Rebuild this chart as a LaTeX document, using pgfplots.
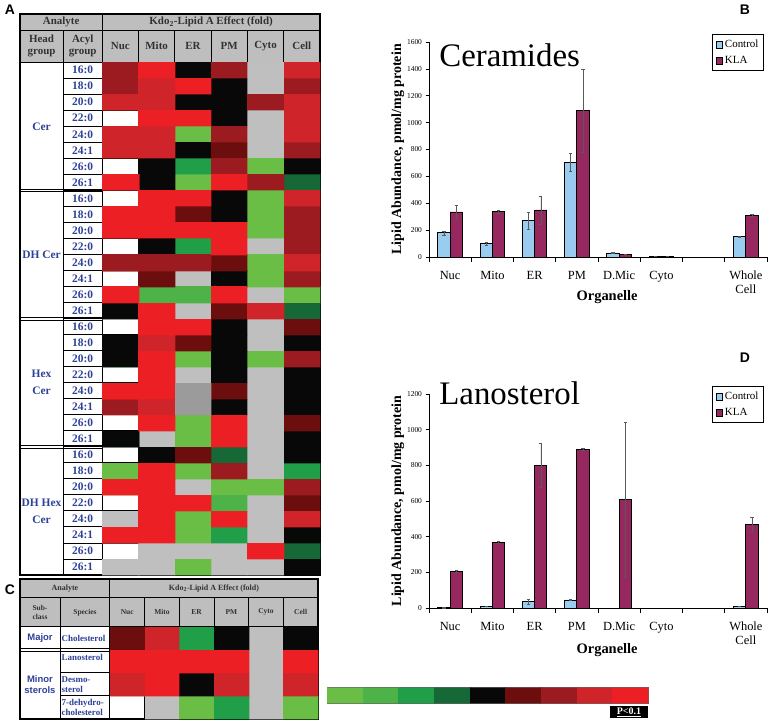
\documentclass[border=0pt]{standalone}
\usepackage{pgfplots}
\usepackage{pgfplotstable}
\pgfplotsset{compat=1.18}
\usepackage{fontspec}
\setmainfont{Liberation Serif}
\newfontfamily\arialfont{Liberation Sans}
\newcommand\fs[2]{\fontsize{#1}{#2}\selectfont}
\definecolor{tblue}{RGB}{45,65,150}
\definecolor{hgray}{RGB}{190,190,190}
\definecolor{htext}{RGB}{50,50,50}
\definecolor{ctrl}{RGB}{153,204,238}
\definecolor{kla}{RGB}{150,40,95}
\definecolor{dtext}{RGB}{15,55,20}
\definecolor{ebar}{RGB}{90,90,90}
% fold-change classes
\definecolor{c0}{RGB}{191,191,191}
\definecolor{c1}{RGB}{107,190,69}
\definecolor{c2}{RGB}{77,178,72}
\definecolor{c3}{RGB}{32,158,72}
\definecolor{c4}{RGB}{22,104,54}
\definecolor{c5}{RGB}{8,8,8}
\definecolor{c6}{RGB}{108,14,14}
\definecolor{c7}{RGB}{155,27,32}
\definecolor{c8}{RGB}{207,36,42}
\definecolor{c9}{RGB}{236,32,36}
\definecolor{c10}{RGB}{155,155,155}
\newcommand\uv[1]{\underline{#1}}
% Table A: fold class per cell, rows 16:0..26:1 for Cer, DH Cer, Hex Cer, DH Hex Cer; columns Nuc Mito ER PM Cyto Cell
\pgfplotstableread[row sep=\\]{
 c\\
 7\\9\\5\\7\\0\\8\\
 7\\8\\9\\5\\0\\7\\
 8\\8\\5\\5\\7\\8\\
 8\\9\\9\\5\\0\\8\\
 8\\8\\1\\7\\0\\8\\
 6\\8\\5\\6\\0\\7\\
 8\\5\\3\\7\\1\\5\\
 9\\5\\1\\9\\7\\4\\
 9\\9\\9\\5\\1\\8\\
 9\\9\\6\\5\\1\\7\\
 9\\9\\9\\9\\1\\7\\
 9\\5\\3\\9\\0\\7\\
 7\\7\\7\\6\\1\\8\\
 6\\6\\0\\5\\1\\7\\
 9\\2\\2\\9\\0\\1\\
 0\\9\\0\\6\\8\\4\\
 5\\9\\9\\5\\0\\6\\
 5\\8\\6\\5\\0\\5\\
 5\\9\\1\\5\\1\\7\\
 2\\9\\0\\5\\0\\5\\
 9\\9\\10\\6\\0\\5\\
 9\\8\\10\\5\\0\\5\\
 7\\9\\1\\9\\0\\6\\
 4\\0\\1\\9\\0\\5\\
 5\\5\\6\\4\\0\\5\\
 1\\9\\1\\7\\0\\3\\
 1\\9\\0\\1\\1\\7\\
 9\\9\\9\\2\\0\\6\\
 0\\9\\1\\9\\0\\8\\
 9\\9\\1\\3\\0\\5\\
 0\\0\\0\\0\\9\\4\\
 0\\0\\1\\0\\0\\5\\
}\tabA
% Table C
\pgfplotstableread[row sep=\\]{
 c\\
 6\\8\\3\\5\\0\\5\\
 9\\9\\9\\9\\0\\9\\
 8\\9\\5\\8\\0\\8\\
 0\\0\\1\\3\\0\\1\\
}\tabC
% colour key
\pgfplotstableread[row sep=\\]{
 c\\
 1\\2\\3\\4\\5\\6\\7\\8\\9\\
}\tabK
\tikzset{
  gl/.style={line width=0.9bp, black},
  hd/.style={font=\bfseries\fs{11}{12.5}, text=htext, align=center, inner sep=0pt},
  acy/.style={font=\bfseries\fs{11.5}{12}, text=tblue, inner sep=0pt},
  val/.style={font=\bfseries\fs{11}{12}, text=white, inner sep=0pt},
  key/.style={font=\fs{10.5}{11}, text=white!88!black, inner sep=0pt},
}
\pgfplotsset{
  tbl/.style={scale only axis, anchor=south west, hide axis, clip=false, y dir=reverse},
  bars/.style={scale only axis, anchor=south west, xmin=-0.5, xmax=7.5, ymin=0, clip=false,
    axis lines*=left, axis line style={line width=0.8bp, black},
    ybar=0pt, bar width=12.3bp,
    xtick={0,...,7}, xticklabels={Nuc,Mito,ER,PM,D.Mic,Cyto,{},{Whole\\Cell}},
    xticklabel style={align=center, font=\fs{12.5}{14}, yshift=-7bp},
    major x tick style={draw=none},
    minor xtick={-0.5,0.5,...,7.5},
    minor x tick style={line width=0.8bp, black},
    minor tick length=5bp,
    tick align=outside, major tick length=3.5bp,
    y tick style={line width=0.6bp, black},
    yticklabel style={font=\fs{7.5}{8}},
    /pgf/number format/assume math mode=true,
    /pgf/number format/1000 sep={},
    ylabel={Lipid Abundance, pmol/mg protein},
    xlabel={Organelle},
    every axis y label/.style={at={(axis description cs:-0.092,0.5)}, rotate=90, anchor=center, font=\bfseries\fs{14}{14}},
    legend style={at={(0.991,1.037)}, anchor=north east, draw=black, line width=1bp, font=\fs{11}{12}, inner xsep=3bp, inner ysep=3.5bp, row sep=3bp, cells={anchor=west}},
  },
  barbase/.style={draw=black, line width=0.9bp,
    legend image code/.code={\draw[##1] (0bp,-3.5bp) rectangle (6.5bp,3.5bp);},
    error bars/.cd, y dir=both, y explicit,
    error bar style={ebar, line width=0.5bp},
    error mark options={rotate=90, mark size=1.6bp, ebar, line width=0.5bp}},
}
\begin{document}
\begin{tikzpicture}
\useasboundingbox (0,0) rectangle (769bp,722bp);

% ---------------- Table A ----------------
\begin{axis}[tbl, at={(20bp,147bp)}, width=300bp, height=561bp,
  xmin=-2.265, xmax=6, ymin=-3.006, ymax=32]
\fill[hgray] (axis cs:-2.265,-3.006) rectangle (axis cs:6,0);
\pgfplotsinvokeforeach{0,...,10}{
  \addplot[only marks, mark=square*, mark size=0.5bp,
    mark options={fill=c#1, draw=c#1, xscale=36.4, yscale=16.1, line width=0.02bp}]
    table[x index=0, y index=0, x expr={mod(\coordindex,6)+0.5}, y expr={floor(\coordindex/6)+0.5},
      restrict expr to domain={\thisrow{c}}{#1:#1}] {\tabA};
}
% grid
\pgfplotsinvokeforeach{1,...,5}{\draw[gl] (axis cs:#1,-2) -- (axis cs:#1,32);}
\pgfplotsinvokeforeach{1,...,31}{\draw[gl] (axis cs:-1.077,#1) -- (axis cs:6,#1);}
\pgfplotsinvokeforeach{8,16,24}{
  \draw[line width=0.8bp] (axis cs:-2.265,{#1-0.07}) -- (axis cs:6,{#1-0.07});
  \draw[line width=0.8bp] (axis cs:-2.265,{#1+0.09}) -- (axis cs:0,{#1+0.09});}
\draw[gl] (axis cs:-1.077,-2) -- (axis cs:-1.077,32);
\draw[gl] (axis cs:0,-3.006) -- (axis cs:0,32);
\draw[gl] (axis cs:-2.265,-2) -- (axis cs:6,-2);
\draw[gl] (axis cs:-2.265,0) -- (axis cs:6,0);
\draw[line width=1.3bp] (axis cs:-2.265,-3.006) rectangle (axis cs:6,32);
% header text
\node[hd] at (axis cs:-1.1325,-2.503) {Analyte};
\node[hd] at (axis cs:3,-2.503) {Kdo\textsubscript{2}-Lipid A Effect (fold)};
\node[hd] at (axis cs:-1.671,-1) {Head\\group};
\node[hd] at (axis cs:-0.5385,-1) {Acyl\\group};
\node[hd] at (axis cs:0.5,-1) {Nuc};
\node[hd] at (axis cs:1.5,-1) {Mito};
\node[hd] at (axis cs:2.5,-1) {ER};
\node[hd] at (axis cs:3.5,-1) {PM};
\node[hd] at (axis cs:4.5,-1) {Cyto};
\node[hd] at (axis cs:5.5,-1) {Cell};
% head groups
\node[acy, align=center] at (axis cs:-1.671,4) {Cer};
\node[acy, align=center] at (axis cs:-1.671,12) {DH Cer};
\node[acy, align=center, font=\bfseries\fs{11.5}{17}] at (axis cs:-1.671,20) {Hex\\Cer};
\node[acy, align=center, font=\bfseries\fs{11.5}{17}] at (axis cs:-1.671,28) {DH Hex\\Cer};
% acyl groups
\pgfplotsinvokeforeach{0,8,16,24}{
  \node[acy] at (axis cs:-0.5385,{#1+0.5}) {16:0};
  \node[acy] at (axis cs:-0.5385,{#1+1.5}) {18:0};
  \node[acy] at (axis cs:-0.5385,{#1+2.5}) {20:0};
  \node[acy] at (axis cs:-0.5385,{#1+3.5}) {22:0};
  \node[acy] at (axis cs:-0.5385,{#1+4.5}) {24:0};
  \node[acy] at (axis cs:-0.5385,{#1+5.5}) {24:1};
  \node[acy] at (axis cs:-0.5385,{#1+6.5}) {26:0};
  \node[acy] at (axis cs:-0.5385,{#1+7.5}) {26:1};}
% values
\node[val] at (axis cs:1.5,0.5) {\uv{4.2}};
\node[val] at (axis cs:5.5,0.5) {\uv{2.0}};
\node[val] at (axis cs:1.5,2.5) {\uv{2.2}};
\node[val] at (axis cs:5.5,3.5) {\uv{2.6}};
\node[val] at (axis cs:0.5,4.5) {\uv{2.7}};
\node[val] at (axis cs:1.5,4.5) {\uv{2.9}};
\node[val] at (axis cs:3.5,4.5) {\uv{1.9}};
\node[val] at (axis cs:5.5,4.5) {\uv{2.4}};
\node[val] at (axis cs:1.5,5.5) {\uv{2.8}};
\node[val] at (axis cs:5.5,5.5) {\uv{1.9}};
\node[val] at (axis cs:3.5,6.5) {\uv{1.6}};
\node[val] at (axis cs:1.5,8.5) {\uv{3.6}};
\node[val] at (axis cs:2.5,8.5) {\uv{INCR.}};
\node[val] at (axis cs:5.5,8.5) {\uv{2.4}};
\node[val] at (axis cs:0.5,11.5) {\uv{3.0}};
\node[val] at (axis cs:3.5,11.5) {\uv{INCR.}};
\node[val] at (axis cs:5.5,12.5) {\uv{2.2}};
\node[val] at (axis cs:0.5,14.5) {\uv{3.1}};
\node[val, text=dtext] at (axis cs:5.5,14.5) {\uv{0.41}};
\node[val] at (axis cs:1.5,18.5) {\uv{INCR.}};
\node[val, text=dtext] at (axis cs:4.5,18.5) {\uv{DECR}};
\node[val] at (axis cs:3.5,25.5) {\uv{1.8}};
\node[val] at (axis cs:5.5,26.5) {\uv{1.9}};
\end{axis}

% ---------------- Table C ----------------
\begin{axis}[tbl, at={(20bp,3bp)}, width=298bp, height=140bp,
  xmin=-2.594, xmax=6, ymin=-2.065, ymax=4]
\fill[hgray] (axis cs:-2.594,-2.065) rectangle (axis cs:6,0);
\pgfplotsinvokeforeach{0,1,3,5,6,8,9}{
  \addplot[only marks, mark=square*, mark size=0.5bp,
    mark options={fill=c#1, draw=c#1, xscale=34.8, yscale=23.2, line width=0.02bp}]
    table[x index=0, y index=0, x expr={mod(\coordindex,6)+0.5}, y expr={floor(\coordindex/6)+0.5},
      restrict expr to domain={\thisrow{c}}{#1:#1}] {\tabC};
}
\pgfplotsinvokeforeach{1,...,5}{\draw[gl] (axis cs:#1,-1.247) -- (axis cs:#1,4);}
\draw[gl] (axis cs:0,-2.065) -- (axis cs:0,4);
\draw[gl] (axis cs:-1.441,-1.247) -- (axis cs:-1.441,4);
\draw[gl] (axis cs:-2.594,-1.247) -- (axis cs:6,-1.247);
\draw[gl] (axis cs:-2.594,0) -- (axis cs:6,0);
\draw[gl] (axis cs:-2.594,0.96) -- (axis cs:6,0.96);
\draw[gl] (axis cs:-2.594,1.06) -- (axis cs:6,1.06);
\draw[gl] (axis cs:-1.441,2) -- (axis cs:6,2);
\draw[gl] (axis cs:-1.441,3) -- (axis cs:6,3);
\draw[line width=1.3bp] (axis cs:-2.594,-2.065) rectangle (axis cs:6,4);
\node[hd, font=\bfseries\fs{8}{9}] at (axis cs:-1.297,-1.656) {Analyte};
\node[hd, font=\bfseries\fs{8}{9}] at (axis cs:3,-1.656) {Kdo\textsubscript{2}-Lipid A Effect (fold)};
\node[hd, font=\bfseries\fs{7.5}{9}] at (axis cs:-2.0175,-0.6235) {Sub-\\class};
\node[hd, font=\bfseries\fs{7.5}{9}] at (axis cs:-0.72,-0.6235) {Species};
\node[hd, font=\bfseries\fs{7.5}{9}] at (axis cs:0.5,-0.6235) {Nuc};
\node[hd, font=\bfseries\fs{7.5}{9}] at (axis cs:1.5,-0.6235) {Mito};
\node[hd, font=\bfseries\fs{7.5}{9}] at (axis cs:2.5,-0.6235) {ER};
\node[hd, font=\bfseries\fs{7.5}{9}] at (axis cs:3.5,-0.6235) {PM};
\node[hd, font=\bfseries\fs{7.5}{9}] at (axis cs:4.5,-0.6235) {Cyto};
\node[hd, font=\bfseries\fs{7.5}{9}] at (axis cs:5.5,-0.6235) {Cell};
\node[font=\arialfont\bfseries\fs{9.5}{11}, text=tblue, inner sep=0pt] at (axis cs:-2.0175,0.5) {Major};
\node[font=\arialfont\bfseries\fs{9.5}{11}, text=tblue, inner sep=0pt, align=center] at (axis cs:-2.0175,2.5) {Minor\\sterols};
\node[font=\bfseries\fs{9}{10}, text=tblue, inner sep=0pt, anchor=west] at (axis cs:-1.40,0.5) {Cholesterol};
\node[font=\bfseries\fs{9}{10}, text=tblue, inner sep=0pt, anchor=west] at (axis cs:-1.40,1.35) {Lanosterol};
\node[font=\bfseries\fs{9}{9.5}, text=tblue, inner sep=0pt, anchor=west, align=left] at (axis cs:-1.40,2.5) {Desmo-\\sterol};
\node[font=\bfseries\fs{9}{9.5}, text=tblue, inner sep=0pt, anchor=west, align=left] at (axis cs:-1.40,3.5) {7-dehydro-\\cholesterol};
\node[val, font=\bfseries\fs{9}{10}] at (axis cs:0.5,1.7) {\uv{82}};
\node[val, font=\bfseries\fs{9}{10}] at (axis cs:1.5,1.7) {\uv{35}};
\node[val, font=\bfseries\fs{9}{10}] at (axis cs:2.5,1.7) {\uv{23}};
\node[val, font=\bfseries\fs{9}{10}] at (axis cs:3.5,1.7) {\uv{16}};
\node[val, font=\bfseries\fs{9}{10}] at (axis cs:5.5,1.7) {\uv{38}};
\end{axis}

% ---------------- Colour key ----------------
\begin{axis}[tbl, y dir=normal, at={(327bp,19bp)}, width=321bp, height=15.5bp,
  xmin=0, xmax=9, ymin=0, ymax=1]
\pgfplotsinvokeforeach{1,...,9}{
  \addplot[only marks, mark=square*, mark size=0.5bp,
    mark options={fill=c#1, draw=c#1, xscale=35.8, yscale=15.5, line width=0.02bp}]
    table[x index=0, y index=0, x expr={\coordindex+0.5}, y expr={0.5},
      restrict expr to domain={\thisrow{c}}{#1:#1}] {\tabK};
}
\draw[line width=0.6bp, black!60] (axis cs:0,0) rectangle (axis cs:9,1);
\fill[black] (axis cs:7.93,-0.19) rectangle (axis cs:9,-0.97);
\node[val, font=\bfseries\fs{10}{10}] at (axis cs:8.465,-0.58) {\uv{P<0.1}};
\node[key] at (axis cs:0.5,0.5) {<0.33};
\node[key] at (axis cs:1.5,0.5) {<0.5};
\node[key] at (axis cs:2.5,0.5) {<0.67};
\node[key] at (axis cs:3.5,0.5) {<0.8};
\node[key] at (axis cs:4.5,0.5) {=};
\node[key] at (axis cs:5.5,0.5) {>1.25};
\node[key] at (axis cs:6.5,0.5) {>1.5};
\node[key] at (axis cs:7.5,0.5) {>2};
\node[key] at (axis cs:8.5,0.5) {>3};
\end{axis}

% ---------------- Panel B ----------------
\begin{axis}[bars, at={(429bp,465bp)}, width=338bp, height=215bp,
  ymax=1600, ytick={0,200,...,1600},
  every axis x label/.style={at={(axis description cs:0.527,-0.186)}, anchor=center, font=\bfseries\fs{14.5}{15}}]
\addplot[fill=ctrl, barbase] coordinates {(0,180) +- (0,15) (1,100) +- (0,12) (2,270) +- (0,60) (3,705) +- (0,65) (4,30) +- (0,3) (5,5) +- (0,1) (7,150) +- (0,5)};
\addplot[fill=kla, barbase] coordinates {(0,335) +- (0,50) (1,338) +- (0,10) (2,350) +- (0,105) (3,1090) +- (0,310) (4,22) +- (0,2) (5,5) +- (0,1) (7,310) +- (0,8)};
\legend{Control,KLA}
\node[anchor=base west, font=\fs{33}{33}, inner sep=0pt] at (rel axis cs:0.03,0.884) {Ceramides};
\end{axis}

% ---------------- Panel D ----------------
\begin{axis}[bars, at={(429bp,114bp)}, width=338bp, height=214bp,
  ymax=1200, ytick={0,200,...,1200},
  every axis x label/.style={at={(axis description cs:0.527,-0.196)}, anchor=center, font=\bfseries\fs{14.5}{15}}]
\addplot[fill=ctrl, barbase] coordinates {(0,2) +- (0,1) (1,10) +- (0,2) (2,35) +- (0,12) (3,45) +- (0,4) (7,10) +- (0,2)};
\addplot[fill=kla, barbase] coordinates {(0,205) +- (0,7) (1,370) +- (0,7) (2,800) +- (0,125) (3,890) +- (0,5) (4,608) +- (0,435) (7,470) +- (0,40)};
\legend{Control,KLA}
\node[anchor=base west, font=\fs{33}{33}, inner sep=0pt] at (rel axis cs:0.03,0.953) {Lanosterol};
\end{axis}

% panel letters
\node[font=\arialfont\bfseries\fs{14}{14}] at (10bp,712bp) {A};
\node[font=\arialfont\bfseries\fs{14}{14}] at (745bp,712bp) {B};
\node[font=\arialfont\bfseries\fs{14}{14}] at (10bp,132bp) {C};
\node[font=\arialfont\bfseries\fs{14}{14}] at (745bp,364bp) {D};
\end{tikzpicture}
\end{document}
